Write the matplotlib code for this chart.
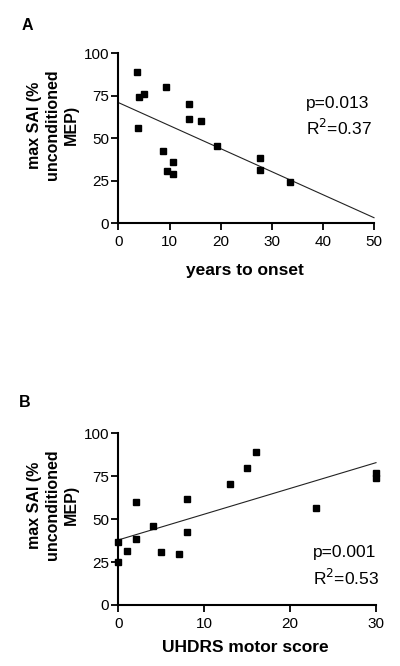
import matplotlib.pyplot as plt
import numpy as np

plt.rcParams['font.family'] = ['Liberation Sans', 'DejaVu Sans']

# panel A: years to onset vs max SAI
years_onset = [3.6, 4.1, 5.0, 3.8, 9.3, 8.7, 9.6, 10.6, 10.6, 13.8, 13.8, 16.2, 19.2, 27.7, 27.7, 33.6]
sai_a = [88.8, 74.3, 76.3, 56.3, 80.0, 42.4, 30.6, 29.2, 36.1, 70.2, 61.6, 60.0, 45.7, 38.2, 31.2, 24.5]
fit_a = [71.0, -1.354]   # intercept, slope

# panel B: UHDRS motor score vs max SAI
uhdrs = [0, 0, 1, 2, 2, 4, 5, 7, 8, 8, 13, 15, 16, 23, 30, 30]
sai_b = [36.5, 24.9, 31.7, 60.0, 38.6, 45.8, 31.1, 29.5, 61.7, 42.7, 70.3, 80.0, 88.9, 56.3, 76.7, 74.2]
fit_b = [37.9, 1.5]

fig = plt.figure(figsize=(4, 6.66), dpi=100)


def panel(rect, x, y, fit, xmax, xticks, stats, stats_xy):
    ax = fig.add_axes(rect)
    ax.plot(x, y, 's', color='black', ms=3.7, clip_on=False, zorder=3)
    xx = np.array([0, xmax])
    ax.plot(xx, fit[0] + fit[1] * xx, color='#222222', lw=0.8, clip_on=False)
    ax.set_xlim(0, xmax)
    ax.set_ylim(0, 100)
    ax.set_xticks(xticks)
    ax.set_yticks([0, 25, 50, 75, 100])
    for s in ['top', 'right']:
        ax.spines[s].set_visible(False)
    for s in ['left', 'bottom']:
        ax.spines[s].set_linewidth(1.5)
    ax.tick_params(direction='out', length=5, width=1.3, labelsize=11)
    ax.tick_params(axis='x', pad=3.5)
    ax.tick_params(axis='y', pad=1.5)
    ax.text(stats_xy[0], stats_xy[1], stats[0], transform=ax.transAxes, fontsize=12.5, va='center')
    ax.text(stats_xy[0], stats_xy[1] - 0.147, stats[1], transform=ax.transAxes, fontsize=12.5, va='center')
    return ax


panel([0.296, 0.6647, 0.639, 0.2553], years_onset, sai_a, fit_a, 50, [0, 10, 20, 30, 40, 50],
      ['p=0.013', r'R$^2$=0.37'], (0.735, 0.705))
panel([0.296, 0.0916, 0.644, 0.2578], uhdrs, sai_b, fit_b, 30, [0, 10, 20, 30],
      ['p=0.001', r'R$^2$=0.53'], (0.755, 0.307))

ylab = 'max SAI (%\nunconditioned\nMEP)'
fig.text(53 / 400, 1 - 125 / 666, ylab, rotation=90, ha='center', va='center',
         fontsize=11.5, fontweight='bold', linespacing=1.25, multialignment='center')
fig.text(53 / 400, 1 - 505 / 666, ylab, rotation=90, ha='center', va='center',
         fontsize=11.5, fontweight='bold', linespacing=1.25, multialignment='center')
fig.text(245 / 400, 1 - 270 / 666, 'years to onset', ha='center', va='center', fontsize=12.5, fontweight='bold')
fig.text(245 / 400, 1 - 648 / 666, 'UHDRS motor score', ha='center', va='center', fontsize=12.5, fontweight='bold')
fig.text(27 / 400, 1 - 25 / 666, 'A', ha='center', va='center', fontsize=11.5, fontweight='bold')
fig.text(25 / 400, 1 - 402 / 666, 'B', ha='center', va='center', fontsize=11.5, fontweight='bold')

fig.savefig('out.png', dpi=100)
